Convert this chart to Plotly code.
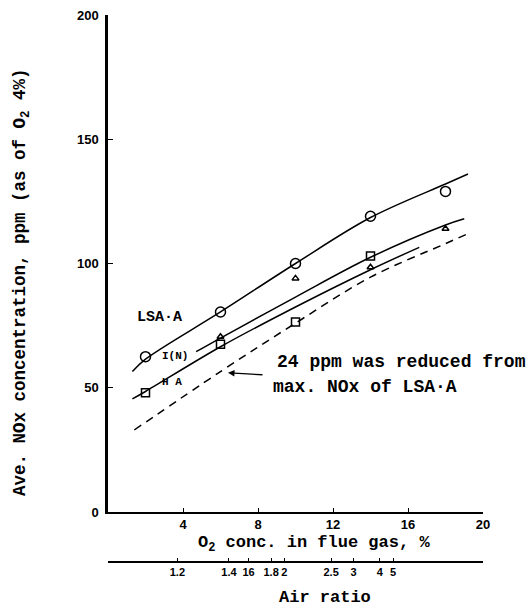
import plotly.graph_objects as go

# ---- data ----
# curves
lsa_x = [1.3, 2, 6, 10, 14, 18, 19.2]
lsa_y = [56.5, 61.5, 80.5, 100, 118.5, 132, 136]
in_x = [4.7, 6, 10, 14, 18, 19.0]
in_y = [64.5, 70, 86.5, 102.5, 115.5, 118]
ha_x = [1.3, 2, 6, 10, 14, 16.6]
ha_y = [45.5, 48.5, 66.5, 82.5, 97.5, 106.5]
red_x = [1.4, 6, 10, 14, 18, 19.2]
red_y = [33, 56.5, 76, 94.5, 108, 112]
# measured points
circ_x = [2, 6, 10, 14, 18]
circ_y = [62.5, 80.5, 100, 119, 129]
sq_x = [2, 6, 10, 14]
sq_y = [48, 67.5, 76.5, 103]
tri_x = [6, 10, 14, 18]
tri_y = [70.5, 94, 98.5, 114]
# axes
o2_ticks = [4, 8, 12, 16, 20]
y_ticks = [0, 50, 100, 150, 200]
air_labels = ["1.2", "1.4", "16", "1.8", "2", "2.5", "3", "4", "5"]
air_pos = [3.7, 6.45, 7.5, 8.7, 9.4, 11.9, 13.1, 14.5, 15.2]

MONO = "Liberation Mono, Courier New, monospace"
NARROW = "Liberation Sans Narrow, Arial Narrow, Liberation Sans, sans-serif"

fig = go.Figure()
line = dict(color="black", width=1.5)
fig.add_trace(go.Scatter(x=lsa_x, y=lsa_y, mode="lines", line=dict(line, shape="spline"), name="LSA·A"))
fig.add_trace(go.Scatter(x=in_x, y=in_y, mode="lines", line=dict(line, shape="spline"), name="I(N)"))
fig.add_trace(go.Scatter(x=ha_x, y=ha_y, mode="lines", line=dict(line, shape="spline"), name="H A"))
fig.add_trace(go.Scatter(x=red_x, y=red_y, mode="lines",
                         line=dict(color="black", width=1.5, dash="8px,6px", shape="spline"), name="reduced"))
fig.add_trace(go.Scatter(x=circ_x, y=circ_y, mode="markers",
                         marker=dict(symbol="circle-open", size=10, color="black", line=dict(width=1.5))))
fig.add_trace(go.Scatter(x=sq_x, y=sq_y, mode="markers",
                         marker=dict(symbol="square-open", size=8, color="black", line=dict(width=1.5))))
fig.add_trace(go.Scatter(x=tri_x, y=tri_y, mode="markers",
                         marker=dict(symbol="triangle-up-open", size=6, color="black", line=dict(width=1.5))))
# invisible trace so the air-ratio axis is drawn
fig.add_trace(go.Scatter(x=air_pos, y=[None] * len(air_pos), xaxis="x2", mode="markers",
                         marker=dict(opacity=0), hoverinfo="skip", showlegend=False))

tickfont = dict(family=NARROW, size=13, color="black", weight="bold")
fig.update_layout(
    width=532, height=610,
    margin=dict(l=108, r=49, t=15, b=48),
    paper_bgcolor="white", plot_bgcolor="white",
    showlegend=False,
    xaxis=dict(range=[0, 20], anchor="y", tickvals=o2_ticks, showline=True, linecolor="black",
               linewidth=1.5, ticks="inside", ticklen=4, tickcolor="black", tickfont=tickfont,
               tickangle=0, showgrid=False, zeroline=False, automargin=False),
    xaxis2=dict(range=[0, 20], overlaying="x", anchor="free", position=0, side="bottom",
                tickvals=air_pos, ticktext=air_labels, showline=True, linecolor="black", linewidth=1.5,
                ticks="inside", ticklen=3, tickcolor="black", tickangle=0,
                tickfont=dict(family=NARROW, size=11, color="black", weight="bold"),
                showgrid=False, zeroline=False, automargin=False),
    yaxis=dict(range=[0, 200], domain=[0.0914, 1], tickvals=y_ticks, showline=True, linecolor="black",
               linewidth=2.5, ticks="inside", ticklen=5, tickcolor="black", tickfont=tickfont,
               ticklabelstandoff=4, showgrid=False, zeroline=False, automargin=False),
)

ann = []
ann.append(dict(text="Ave. NOx concentration, ppm (as of O<sub>2</sub> 4%)", xref="paper", yref="paper",
                x=-0.232, y=0.51, xanchor="center", yanchor="middle", textangle=-90, showarrow=False,
                font=dict(family=MONO, size=17.5, color="black", weight="bold")))
ann.append(dict(text="O<sub>2</sub> conc. in flue gas, %", xref="paper", yref="paper",
                x=0.549, y=0.033, xanchor="center", yanchor="middle", showarrow=False,
                font=dict(family=MONO, size=17, color="black", weight="bold")))
ann.append(dict(text="Air ratio", xref="paper", yref="paper", x=0.579, y=-0.064,
                xanchor="center", yanchor="middle", showarrow=False,
                font=dict(family=MONO, size=17, color="black", weight="bold")))
ann.append(dict(text="LSA·A", x=2.75, y=78.1, showarrow=False,
                font=dict(family=MONO, size=15, color="black", weight="bold")))
ann.append(dict(text="I(N)", x=3.57, y=62.8, showarrow=False,
                font=dict(family=MONO, size=11, color="black", weight="bold")))
ann.append(dict(text="H A", x=3.41, y=52.3, showarrow=False,
                font=dict(family=MONO, size=11, color="black", weight="bold")))
ann.append(dict(text="24 ppm was reduced from", x=8.9, y=60.4, xanchor="left", showarrow=False,
                font=dict(family=MONO, size=18, color="black", weight="bold")))
ann.append(dict(text="max. NOx of LSA·A", x=8.7, y=50.3, xanchor="left", showarrow=False,
                font=dict(family=MONO, size=18, color="black", weight="bold")))
ann.append(dict(text="", x=6.4, y=56, ax=36, ay=2, showarrow=True, arrowhead=2, arrowsize=1,
                arrowwidth=1.3, arrowcolor="black"))
fig.update_layout(annotations=ann)

fig.write_html("out.html")
